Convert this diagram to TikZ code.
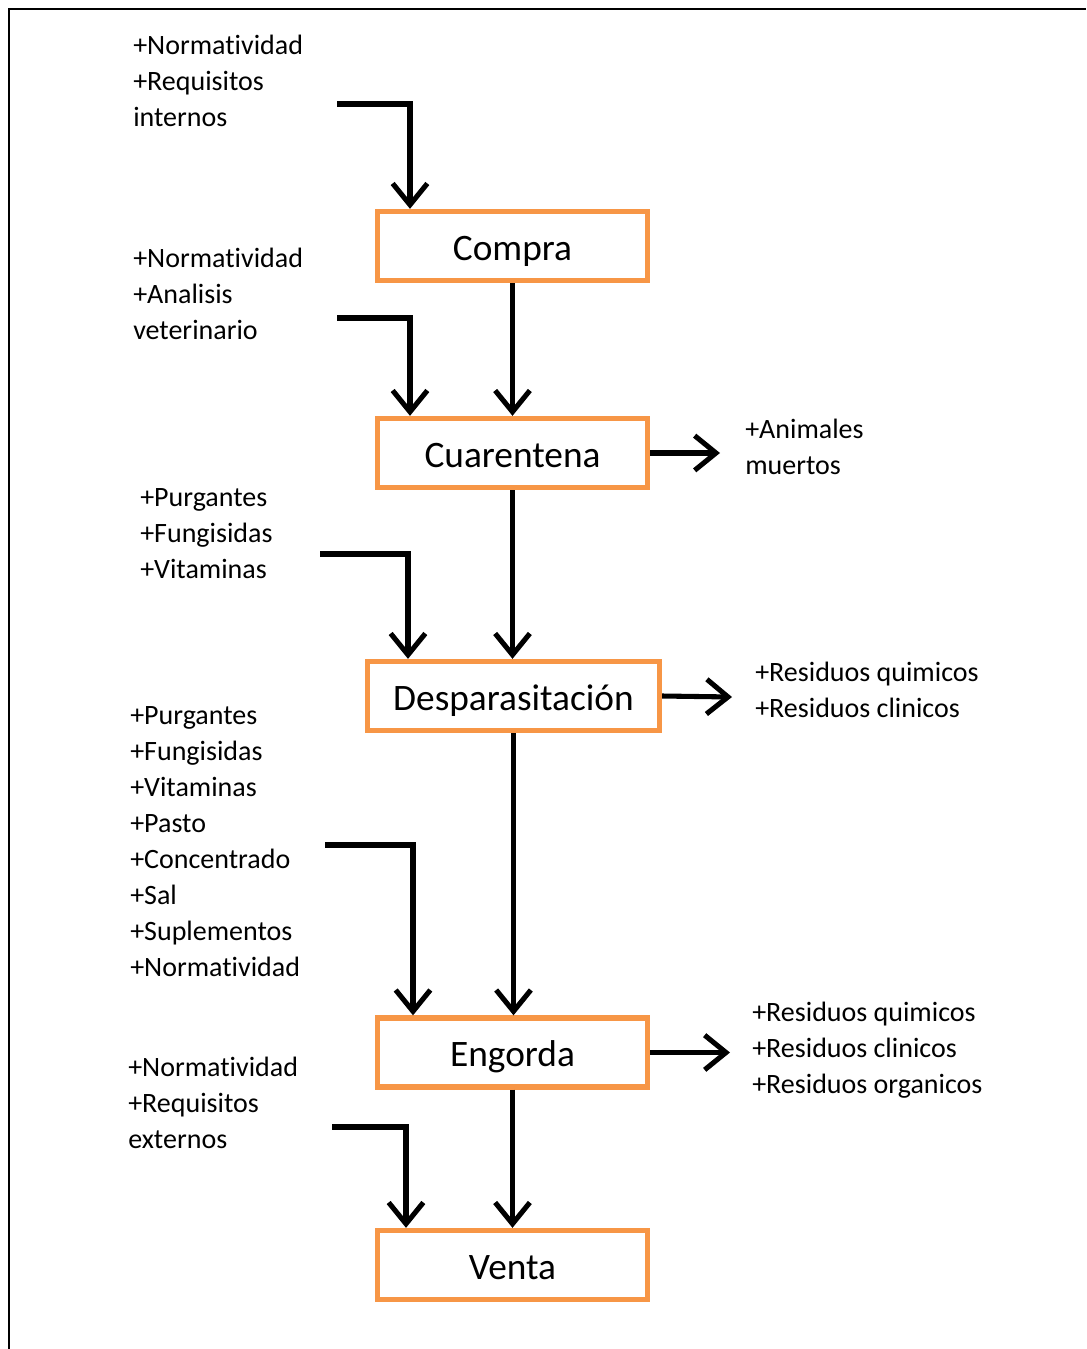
\documentclass[tikz,border=0pt]{standalone}
\usepackage{fontspec}
\setmainfont[Ligatures={NoCommon}]{Carlito}
\usetikzlibrary{arrows.meta}
\definecolor{boxorange}{HTML}{F79646}
\begin{document}
\begin{tikzpicture}[x=0.75pt,y=-0.75pt,
  stepbox/.style={draw=boxorange,line width=4pt,fill=white,minimum height=51.75pt,inner sep=0pt,text height=25pt,text depth=4pt,font=\fontsize{28}{32}\selectfont},
  arr/.style={line width=3.8pt,-{Straight Barb[length=16pt,width=26pt,line width=3.8pt]}},
  side/.style={anchor=north west,inner sep=0pt,align=left,font=\fontsize{21}{27}\selectfont}]
\useasboundingbox (0,0) rectangle (1086,1349);
% frame
\draw[line width=1.6pt] (9,1349) -- (9,9) -- (1086,9);
% boxes
\node[stepbox,minimum width=202.5pt] (compra) at (512.5,246) {Compra};
\node[stepbox,minimum width=202.5pt] (cuar) at (512.5,453) {Cuarentena};
\node[stepbox,minimum width=219pt] (desp) at (513.5,696) {Desparasitación};
\node[stepbox,minimum width=202.5pt] (engo) at (512.5,1052.5) {Engorda};
\node[stepbox,minimum width=202.5pt] (venta) at (512.5,1265) {Venta};
% left labels
\node[side] (l1) at (133,35) {+Normatividad\\+Requisitos\\internos};
\node[side] (l2) at (133,248) {+Normatividad\\+Analisis\\veterinario};
\node[side] (l3) at (140,488) {+Purgantes\\+Fungisidas\\+Vitaminas};
\node[side] (l4) at (130,706) {+Purgantes\\+Fungisidas\\+Vitaminas\\+Pasto\\+Concentrado\\+Sal\\+Suplementos\\+Normatividad};
\node[side] (l5) at (128,1057) {+Normatividad\\+Requisitos\\externos};
% right labels
\node[side] (r1) at (745,419) {+Animales\\muertos};
\node[side] (r2) at (755,662) {+Residuos quimicos\\+Residuos clinicos};
\node[side] (r3) at (752,1002) {+Residuos quimicos\\+Residuos clinicos\\+Residuos organicos};
% elbow coordinates
\coordinate (s1) at (337,104); \coordinate (k1) at (410,104);
\coordinate (s2) at (337,318); \coordinate (k2) at (410,318);
\coordinate (s3) at (320,554); \coordinate (k3) at (408,554);
\coordinate (s4) at (325,845); \coordinate (k4) at (413,845);
\coordinate (s5) at (332,1127); \coordinate (k5) at (406,1127);
\coordinate (e1) at (720,453);
\coordinate (e2) at (732,697);
\coordinate (e3) at (730,1052.5);
% elbow arrows
\draw[arr] (s1) -- (k1) -- (k1 |- compra.north);
\draw[arr] (s2) -- (k2) -- (k2 |- cuar.north);
\draw[arr] (s3) -- (k3) -- (k3 |- desp.north);
\draw[arr] (s4) -- (k4) -- (k4 |- engo.north);
\draw[arr] (s5) -- (k5) -- (k5 |- venta.north);
% main flow
\draw[arr] (compra.south) -- (cuar.north);
\draw[arr] (cuar.south) -- (cuar.south |- desp.north);
\draw[arr] (desp.south) -- (desp.south |- engo.north);
\draw[arr] (engo.south) -- (venta.north);
% outputs
\draw[arr] (cuar.east) -- (e1);
\draw[arr] (desp.east) -- (e2);
\draw[arr] (engo.east) -- (e3);
\end{tikzpicture}
\end{document}
